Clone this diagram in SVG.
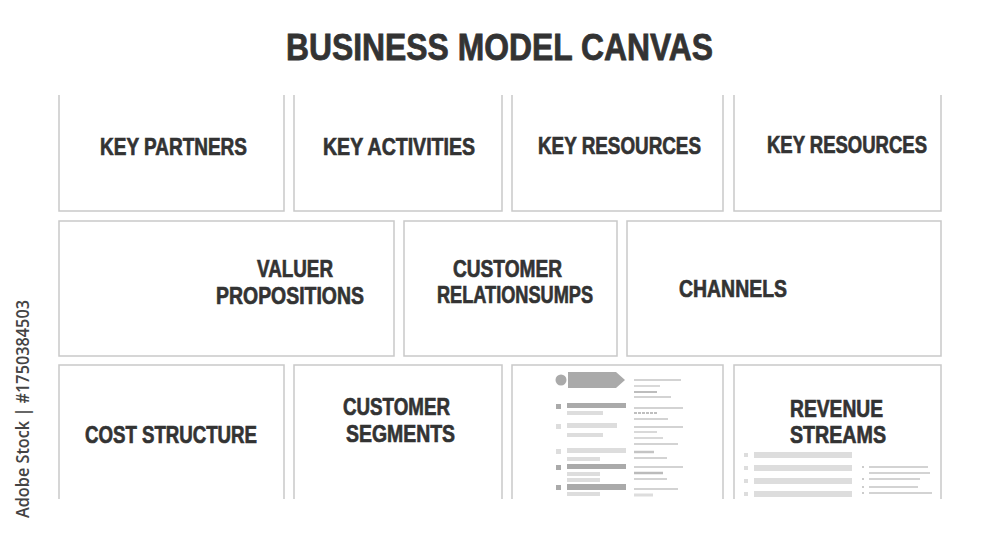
<svg xmlns="http://www.w3.org/2000/svg" width="1000" height="545" viewBox="0 0 1000 545">
<style>
.box{fill:none;stroke:#c9c9c9;stroke-width:1.5}
.t{font-family:"Liberation Sans",Arial,sans-serif;font-weight:bold;fill:#333;stroke:#333;stroke-width:0.7;font-size:24px}
.dk{fill:#aaa}
.lt{fill:#ddd}
.ln{stroke:#c4c4c4;stroke-width:1.3}
</style>
<rect width="1000" height="545" fill="#fff"/>
<text class="t" x="286" y="60" textLength="427" lengthAdjust="spacingAndGlyphs" style="font-size:37px;stroke-width:0.8">BUSINESS MODEL CANVAS</text>

<g id="key-partners">
<path class="box" d="M59,95 V211 H284 V95"/>
<text class="t" x="100" y="155" textLength="147" lengthAdjust="spacingAndGlyphs">KEY PARTNERS</text>
</g>
<g id="key-activities">
<path class="box" d="M294,95 V211 H502 V95"/>
<text class="t" x="323" y="155" textLength="152" lengthAdjust="spacingAndGlyphs">KEY ACTIVITIES</text>
</g>
<g id="key-resources-1">
<path class="box" d="M512,95 V211 H723 V95"/>
<text class="t" x="538" y="154" textLength="163" lengthAdjust="spacingAndGlyphs">KEY RESOURCES</text>
</g>
<g id="key-resources-2">
<path class="box" d="M734,95 V211 H941 V95"/>
<text class="t" x="767" y="153" textLength="160" lengthAdjust="spacingAndGlyphs">KEY RESOURCES</text>
</g>

<g id="value-propositions">
<rect class="box" x="59" y="221" width="335" height="135"/>
<text class="t" x="257" y="277" textLength="76" lengthAdjust="spacingAndGlyphs">VALUER</text>
<text class="t" x="216" y="304" textLength="148" lengthAdjust="spacingAndGlyphs">PROPOSITIONS</text>
</g>
<g id="customer-relationships">
<rect class="box" x="404" y="221" width="213" height="135"/>
<text class="t" x="453" y="277" textLength="109" lengthAdjust="spacingAndGlyphs">CUSTOMER</text>
<text class="t" x="437" y="303" textLength="156" lengthAdjust="spacingAndGlyphs">RELATIONSUMPS</text>
</g>
<g id="channels">
<rect class="box" x="627" y="221" width="314" height="135"/>
<text class="t" x="679" y="297" textLength="108" lengthAdjust="spacingAndGlyphs">CHANNELS</text>
</g>

<g id="cost-structure">
<path class="box" d="M59,499 V365 H284 V499"/>
<text class="t" x="85" y="443" textLength="172" lengthAdjust="spacingAndGlyphs">COST STRUCTURE</text>
</g>
<g id="customer-segments">
<path class="box" d="M294,499 V365 H502 V499"/>
<text class="t" x="343" y="415" textLength="107" lengthAdjust="spacingAndGlyphs">CUSTOMER</text>
<text class="t" x="346" y="442" textLength="109" lengthAdjust="spacingAndGlyphs">SEGMENTS</text>
</g>
<g id="document">
<path class="box" d="M512,499 V365 H723 V499"/>
<circle cx="561" cy="380" r="5.5" class="dk"/>
<polygon points="568,372 616,372 625,380 616,388 568,388" class="dk"/>
<rect x="556" y="404" width="5" height="5" class="dk"/>
<rect x="567" y="403" width="59" height="5" class="dk"/>
<rect x="567" y="411" width="36" height="4" class="lt"/>
<rect x="556" y="424" width="5" height="5" class="lt"/>
<rect x="567" y="423" width="50" height="5" class="lt"/>
<rect x="567" y="433" width="36" height="4" class="lt"/>
<rect x="556" y="449" width="5" height="5" class="lt"/>
<rect x="567" y="448" width="59" height="5" class="lt"/>
<rect x="567" y="457" width="33" height="4" class="lt"/>
<rect x="556" y="465" width="5" height="5" class="dk"/>
<rect x="567" y="464" width="59" height="5" class="dk"/>
<rect x="567" y="472" width="33" height="4" class="lt"/>
<rect x="567" y="478" width="33" height="4" class="lt"/>
<rect x="556" y="485" width="5" height="5" class="dk"/>
<rect x="567" y="484" width="59" height="6" class="dk"/>
<rect x="567" y="492" width="33" height="4" class="lt"/>
<g class="ln">
<line x1="634" y1="380" x2="681" y2="380"/>
<line x1="634" y1="386" x2="660" y2="386"/>
<line x1="634" y1="392" x2="657" y2="392" stroke="#999"/>
<line x1="634" y1="397" x2="671" y2="397"/>
<line x1="634" y1="408" x2="683" y2="408"/>
<line x1="634" y1="413" x2="657" y2="413" stroke="#aaa" stroke-dasharray="3,1"/>
<line x1="634" y1="419" x2="668" y2="419"/>
<line x1="634" y1="427" x2="683" y2="427"/>
<line x1="634" y1="432" x2="657" y2="432"/>
<line x1="634" y1="438" x2="663" y2="438"/>
<line x1="634" y1="444" x2="678" y2="444"/>
<line x1="634" y1="452" x2="654" y2="452" stroke-width="2.5"/>
<line x1="634" y1="458" x2="667" y2="458"/>
<line x1="634" y1="467" x2="683" y2="467"/>
<line x1="634" y1="473" x2="663" y2="473" stroke-width="2.5" stroke="#bbb"/>
<line x1="634" y1="479" x2="667" y2="479"/>
<line x1="634" y1="489" x2="678" y2="489"/>
<line x1="634" y1="495" x2="653" y2="495" stroke-width="3" stroke="#ddd"/>
</g>
</g>
<g id="revenue-streams">
<path class="box" d="M734,499 V365 H941 V499"/>
<text class="t" x="790" y="417" textLength="93" lengthAdjust="spacingAndGlyphs">REVENUE</text>
<text class="t" x="790" y="443" textLength="96" lengthAdjust="spacingAndGlyphs">STREAMS</text>
<rect x="744" y="453" width="4" height="4" class="lt"/>
<rect x="754" y="452" width="98" height="6" class="lt"/>
<rect x="744" y="466" width="4" height="4" class="lt"/>
<rect x="754" y="465" width="98" height="6" class="lt"/>
<rect x="744" y="479" width="4" height="4" class="lt"/>
<rect x="754" y="478" width="98" height="6" class="lt"/>
<rect x="744" y="492" width="4" height="4" class="lt"/>
<rect x="754" y="491" width="98" height="6" class="lt"/>
<g class="ln">
<rect x="862" y="466" width="2" height="2" fill="#ccc" stroke="none"/>
<line x1="869" y1="467" x2="928" y2="467"/>
<line x1="869" y1="473" x2="930" y2="473"/>
<rect x="862" y="478" width="2" height="2" fill="#ccc" stroke="none"/>
<line x1="869" y1="479" x2="920" y2="479"/>
<rect x="862" y="486" width="2" height="2" fill="#ccc" stroke="none"/>
<line x1="869" y1="487" x2="918" y2="487"/>
<rect x="862" y="492" width="2" height="2" fill="#ccc" stroke="none"/>
<line x1="869" y1="493" x2="932" y2="493"/>
</g>
</g>
<g id="connectors"></g>
<text x="29" y="518" transform="rotate(-90 29 518)" font-family="'Open Sans','Liberation Sans',sans-serif" font-size="18" font-weight="600" fill="#444" textLength="218" lengthAdjust="spacingAndGlyphs">Adobe Stock | #1750384503</text>
</svg>
